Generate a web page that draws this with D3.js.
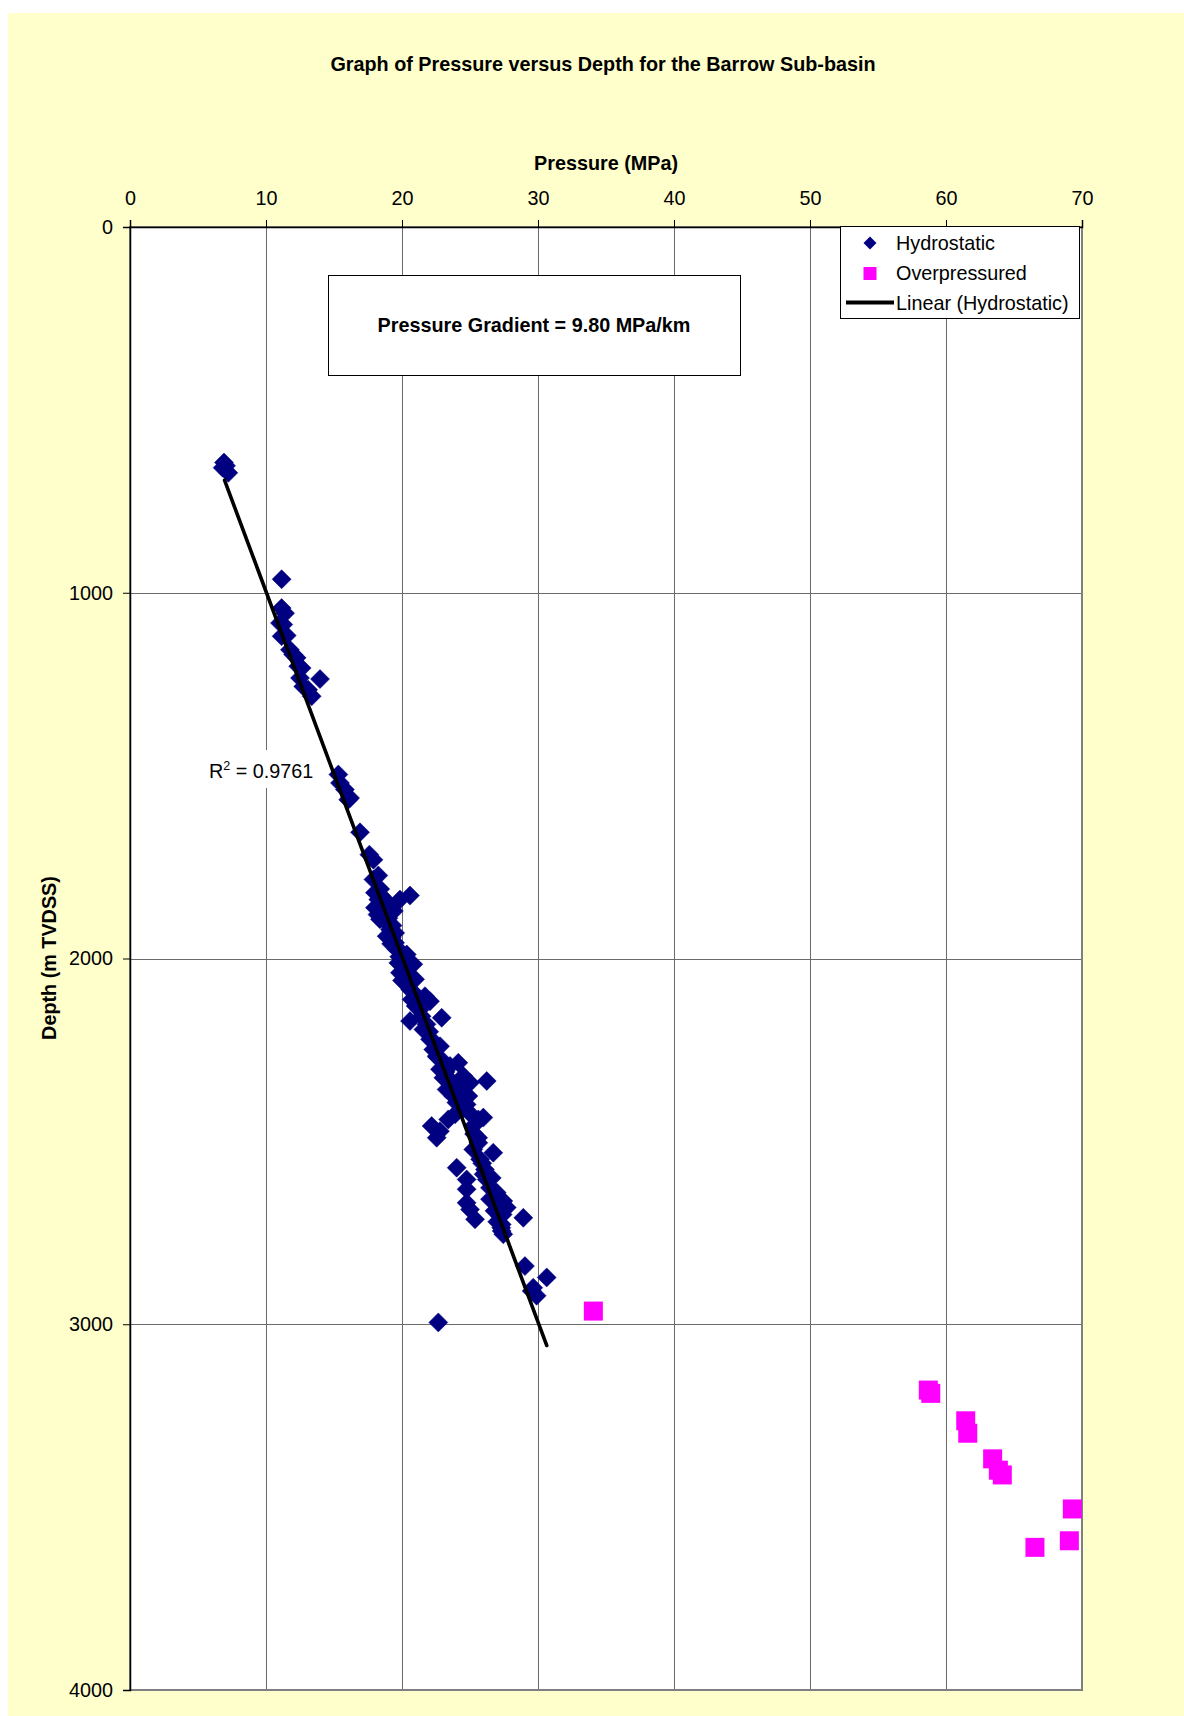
<!DOCTYPE html>
<html>
<head>
<meta charset="utf-8">
<script src="https://cdn.jsdelivr.net/npm/d3@7"></script>
<style>
  html, body { margin: 0; padding: 0; background: #ffffff; }
  svg { display: block; }
  text { font-family: Arial, "Liberation Sans", sans-serif; fill: #000; }
</style>
</head>
<body>
<svg id="chart" width="1184" height="1716"></svg>
<script>
// ---------------- data ----------------
const titleText = "Graph of Pressure versus Depth for the Barrow Sub-basin";
const xAxisTitle = "Pressure (MPa)";
const yAxisTitle = "Depth (m TVDSS)";
const xTicks = [0, 10, 20, 30, 40, 50, 60, 70];
const yTicks = [0, 1000, 2000, 3000, 4000];
const seriesNames = ["Hydrostatic", "Overpressured", "Linear (Hydrostatic)"];
const gradientLabel = "Pressure Gradient = 9.80 MPa/km";
const r2Value = "0.9761";

const hydroPressure = [
  6.91, 7.06, 6.81, 7.23, 11.15,
  11.15, 11.4, 11.03, 11.27, 11.15, 11.52, 11.76, 12.0, 12.25, 12.37, 12.62, 12.5, 12.74, 13.1, 13.36, 13.97,
  15.32, 15.44, 15.8, 16.18, 16.05, 16.91, 17.6, 17.9, 18.26, 17.9, 20.59, 19.85,
  18.01, 18.26, 18.01, 18.63, 18.38, 18.87, 19.12, 18.87, 19.24, 19.49, 19.61, 19.98, 20.35, 20.1,
  19.73, 20.83, 19.85, 20.96, 20.22, 20.71, 22.06, 21.69, 20.59, 22.92, 21.44, 21.57, 22.06, 22.3, 22.55,
  24.14, 23.53, 22.79, 23.04, 24.51, 25.0, 26.23, 23.28, 23.77, 24.26, 24.88,
  24.0, 24.75, 25.61, 25.98, 25.24, 22.18, 22.79, 22.55, 23.4, 23.9, 25.61, 25.24, 26.71, 25.74, 24.02,
  26.1, 24.75, 26.23, 26.47, 24.75, 26.96, 26.47, 24.75, 27.45, 25.0, 27.7, 25.37, 27.2, 27.33, 28.92, 27.33,
  27.3, 27.45, 29.04, 30.64, 29.65, 29.9, 29.53, 22.67,
  18.4, 18.6, 18.2, 19.0, 19.3, 19.5, 19.2, 19.8, 20.2, 20.4, 20.0, 20.6, 20.9, 21.0, 21.3, 21.8, 22.0,
  22.4, 22.8, 22.6, 23.0, 23.2, 23.5, 23.9, 24.2, 24.5, 24.9, 25.3, 25.6, 25.9, 26.0, 26.6, 26.8, 27.0, 27.4,
  18.9, 19.4, 18.5, 19.1
];
const hydroDepth = [
  644, 653, 658, 672, 963,
  1042, 1056, 1083, 1087, 1119, 1117, 1156, 1169, 1178, 1201, 1206, 1233, 1256, 1265, 1283, 1236,
  1497, 1520, 1538, 1561, 1566, 1655, 1716, 1730, 1773, 1784, 1828, 1839,
  1820, 1839, 1861, 1875, 1893, 1902, 1921, 1939, 1943, 1957, 1975, 1984, 1989, 2003,
  2012, 2016, 2039, 2057, 2066, 2112, 2117, 2103, 2171, 2162, 2158, 2194, 2221, 2249, 2267,
  2285, 2294, 2303, 2326, 2321, 2340, 2335, 2358, 2376, 2394, 2376,
  2394, 2399, 2440, 2435, 2458, 2458, 2472, 2490, 2440, 2426, 2504, 2522, 2531, 2549, 2572,
  2577, 2604, 2604, 2627, 2631, 2640, 2658, 2668, 2663, 2686, 2681, 2713, 2704, 2727, 2709, 2745,
  2736, 2754, 2841, 2872, 2900, 2922, 2909, 2995,
  1810, 1850, 1880, 1890, 1910, 1930, 1960, 1995, 2025, 2045, 2060, 2085, 2095, 2130, 2140, 2180, 2200,
  2230, 2240, 2270, 2280, 2310, 2330, 2350, 2360, 2410, 2420, 2480, 2490, 2560, 2590, 2600, 2690, 2720, 2700,
  1845, 1870, 1830, 1905
];

const overPressure = [34.07, 58.7, 58.88, 61.45, 61.6, 63.43, 63.85, 64.14, 69.29, 69.07, 66.54];
const overDepth    = [2964, 3180, 3189, 3264, 3298, 3368, 3399, 3412, 3505, 3592, 3610];

const trendPressure = [6.95, 30.64];
const trendDepth    = [692, 3058];

// ---------------- layout ----------------
const svg = d3.select("#chart");
const W = 1184, H = 1716;
const plot = { left: 130, right: 1082, top: 227, bottom: 1690 };
const fsNormal = "19.8px", fsBold = "19.8px";

svg.append("rect").attr("x", 8).attr("y", 13).attr("width", W - 8).attr("height", H - 13)
  .attr("fill", "#FFFFCC");

const x = d3.scaleLinear().domain([0, 70]).range([plot.left, plot.right]);
const y = d3.scaleLinear().domain([0, 4000]).range([plot.top, plot.bottom]);

// plot area
svg.append("rect")
  .attr("x", plot.left).attr("y", plot.top)
  .attr("width", plot.right - plot.left).attr("height", plot.bottom - plot.top)
  .attr("fill", "#ffffff");

// gridlines
const grid = svg.append("g").attr("stroke", "#6a6a6a").attr("stroke-width", 1);
xTicks.slice(1, -1).forEach(t => {
  grid.append("line").attr("x1", Math.round(x(t)) + 0.5).attr("x2", Math.round(x(t)) + 0.5)
    .attr("y1", plot.top).attr("y2", plot.bottom);
});
yTicks.slice(1, -1).forEach(t => {
  grid.append("line").attr("y1", Math.round(y(t)) + 0.5).attr("y2", Math.round(y(t)) + 0.5)
    .attr("x1", plot.left).attr("x2", plot.right);
});

// plot border
svg.append("rect")
  .attr("x", plot.left).attr("y", plot.top)
  .attr("width", plot.right - plot.left).attr("height", plot.bottom - plot.top)
  .attr("fill", "none").attr("stroke", "#808080").attr("stroke-width", 2);

// axes
const xAxis = d3.axisTop(x).tickValues(xTicks).tickSize(7).tickPadding(15).tickFormat(d3.format("d"));
const gx = svg.append("g").attr("transform", `translate(0,${plot.top})`).call(xAxis);
const yAxis = d3.axisLeft(y).tickValues(yTicks).tickSize(7).tickPadding(10).tickFormat(d3.format("d"));
const gy = svg.append("g").attr("transform", `translate(${plot.left},0)`).call(yAxis);
[gx, gy].forEach(g => {
  g.selectAll("text").style("font-size", fsNormal).attr("fill", "#000");
  g.selectAll("line").attr("stroke", "#000");
  g.select(".domain").attr("stroke", "#000").attr("stroke-width", 1.5);
});

// titles
svg.append("text").attr("x", 603).attr("y", 71).attr("text-anchor", "middle")
  .style("font-size", fsBold).style("font-weight", "bold").text(titleText);
svg.append("text").attr("x", 606).attr("y", 170).attr("text-anchor", "middle")
  .style("font-size", fsBold).style("font-weight", "bold").text(xAxisTitle);
svg.append("text").attr("transform", "translate(56,958) rotate(-90)").attr("text-anchor", "middle")
  .style("font-size", fsBold).style("font-weight", "bold").text(yAxisTitle);

// gradient text box
svg.append("rect").attr("x", 328.5).attr("y", 275.5).attr("width", 412).attr("height", 100)
  .attr("fill", "#fff").attr("stroke", "#000").attr("stroke-width", 1);
svg.append("text").attr("x", 534).attr("y", 332).attr("text-anchor", "middle")
  .style("font-size", fsBold).style("font-weight", "bold").text(gradientLabel);

// R^2 label with white background
svg.append("rect").attr("x", 205).attr("y", 750).attr("width", 114).attr("height", 38).attr("fill", "#fff");
const r2 = svg.append("text").attr("x", 209).attr("y", 778).style("font-size", fsNormal);
r2.append("tspan").text("R");
r2.append("tspan").attr("dy", -8).style("font-size", "12.5px").text("2");
r2.append("tspan").attr("dy", 8).text(" = " + r2Value);

// markers
const diamond = (cx, cy, r) => `M${cx},${cy - r}L${cx + r},${cy}L${cx},${cy + r}L${cx - r},${cy}Z`;
const hydro = hydroPressure.map((p, i) => ({ p, d: hydroDepth[i] }));
const over = overPressure.map((p, i) => ({ p, d: overDepth[i] }));

svg.append("g").selectAll("path").data(hydro).join("path")
  .attr("d", v => diamond(x(v.p), y(v.d), 9.5))
  .attr("fill", "#000080").attr("stroke", "#000080").attr("stroke-width", 0.5);

svg.append("g").selectAll("rect").data(over).join("rect")
  .attr("x", v => x(v.p) - 9.5).attr("y", v => y(v.d) - 9.5)
  .attr("width", 19).attr("height", 19).attr("fill", "#FF00FF");

// trend line
const trend = trendPressure.map((p, i) => ({ p, d: trendDepth[i] }));
svg.append("path").datum(trend)
  .attr("d", d3.line().x(v => x(v.p)).y(v => y(v.d)))
  .attr("fill", "none").attr("stroke", "#000").attr("stroke-width", 3.6).attr("stroke-linecap", "round");

// legend
const lg = svg.append("g");
lg.append("rect").attr("x", 840.5).attr("y", 226.5).attr("width", 239).attr("height", 92)
  .attr("fill", "#fff").attr("stroke", "#000").attr("stroke-width", 1);
lg.append("path").attr("d", diamond(870, 243, 6.5)).attr("fill", "#000080");
lg.append("rect").attr("x", 863.5).attr("y", 267).attr("width", 13).attr("height", 13).attr("fill", "#FF00FF");
lg.append("line").attr("x1", 846).attr("x2", 894).attr("y1", 302.5).attr("y2", 302.5)
  .attr("stroke", "#000").attr("stroke-width", 4);
[243, 273, 303].forEach((cy, i) => {
  lg.append("text").attr("x", 896).attr("y", cy + 7).style("font-size", fsNormal).text(seriesNames[i]);
});
</script>
</body>
</html>
